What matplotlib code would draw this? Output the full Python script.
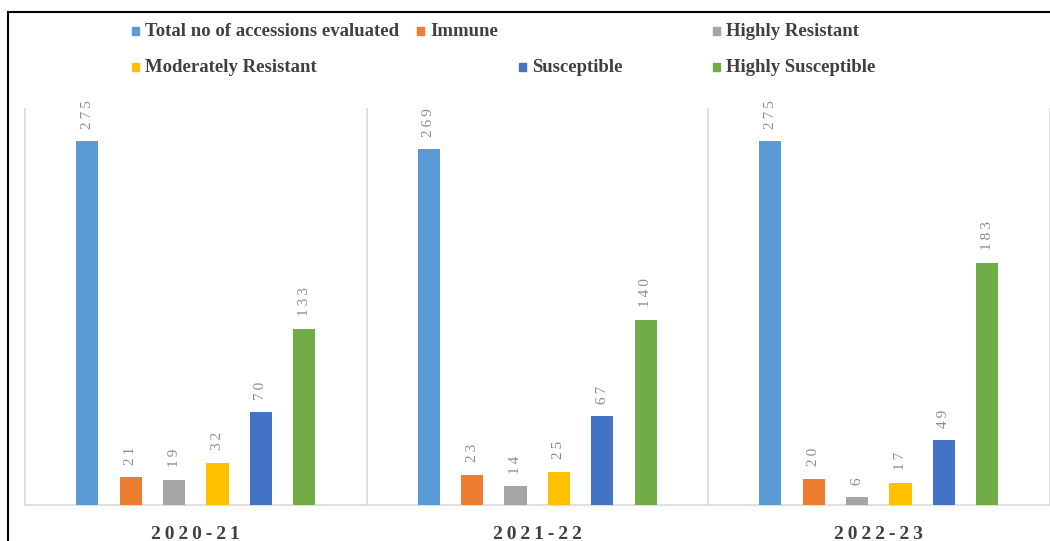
import matplotlib
matplotlib.use("Agg")
import numpy as np
import matplotlib.pyplot as plt
from matplotlib.lines import Line2D
from matplotlib.patches import Rectangle

seasons = ["2020-21", "2021-22", "2022-23"]
series = [
    "Total no of accessions evaluated",
    "Immune",
    "Highly Resistant",
    "Moderately Resistant",
    "Susceptible",
    "Highly Susceptible",
]
colors = ["#5B9BD5", "#ED7D31", "#A5A5A5", "#FFC000", "#4472C4", "#70AD47"]

total = [275, 269, 275]
immune = [21, 23, 20]
highly_res = [19, 14, 6]
moderately_res = [32, 25, 17]
susceptible = [70, 67, 49]
highly_sus = [133, 140, 183]
values = [total, immune, highly_res, moderately_res, susceptible, highly_sus]

# legend layout (figure pixels), irregular like the Excel original
legend_pos = [(135, 31), (420, 31), (716, 31), (135, 67), (522, 67), (716, 67)]

W, H = 1050, 541
fig = plt.figure(figsize=(W / 100, H / 100), dpi=100)
ax = fig.add_axes([25 / W, 1 - 505 / H, 1024.5 / W, (505 - 108) / H])

x = np.arange(len(seasons))
slot = 0.127
bw = 0.065
thin = "\u2009"
for i, (vals, col) in enumerate(zip(values, colors)):
    xs = x + (i - 2.5) * slot
    bars = ax.bar(xs, vals, width=bw, color=col, zorder=3)
    for b, v in zip(bars, vals):
        ax.annotate(thin.join(str(v)), (b.get_x() + b.get_width() / 2, v),
                    xytext=(0, 9), textcoords="offset points",
                    rotation=90, ha="center", va="bottom",
                    fontsize=11, color="#8C8C8C", family="Liberation Serif")

ax.set_xlim(-0.5, 2.5)
ax.set_ylim(0, 300)
for s in ["top", "left", "right"]:
    ax.spines[s].set_visible(False)
ax.spines["bottom"].set_color("#D9D9D9")
ax.spines["bottom"].set_linewidth(1.2)
ax.vlines([-0.5, 0.5, 1.5, 2.5], 0, 300, color="#D9D9D9", lw=1.2, zorder=1,
          clip_on=False)
ax.set_yticks([])
ax.set_xticks(x)
ax.set_xticklabels([thin.join(s) for s in seasons], fontsize=14,
                   fontweight="bold", family="Liberation Serif", color="#404040")
ax.tick_params(axis="x", length=0, pad=15)

# legend
for (px, py), name, col in zip(legend_pos, series, colors):
    fig.add_artist(Rectangle(((px - 3.5) / W, 1 - (py + 3.5) / H), 7 / W, 7 / H,
                             transform=fig.transFigure, color=col))
    fig.text((px + 10) / W, 1 - py / H, name, ha="left", va="center",
             fontsize=13.5, fontweight="bold", family="Liberation Serif",
             color="#404040")

# outer frame (cropped at right and bottom)
fig.add_artist(Line2D([7.5 / W, 7.5 / W], [0, 1 - 12 / H], color="black",
                      lw=1.5, transform=fig.transFigure))
fig.add_artist(Line2D([7.5 / W, 1], [1 - 12 / H, 1 - 12 / H], color="black",
                      lw=1.5, transform=fig.transFigure))

fig.savefig("out.png", dpi=100)
